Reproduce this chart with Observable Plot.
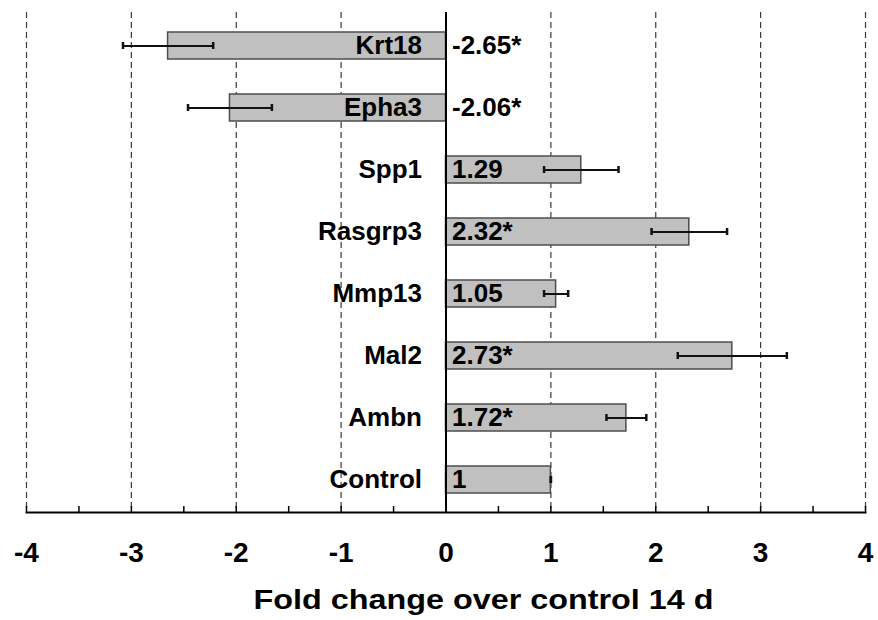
<!DOCTYPE html>
<html>
<head>
<meta charset="utf-8">
<script src="https://cdn.jsdelivr.net/npm/d3@7"></script>
<script src="https://cdn.jsdelivr.net/npm/@observablehq/plot@0.6"></script>
<style>
  html, body { margin: 0; padding: 0; background: #fff; }
  #chart svg { display: block; }
</style>
</head>
<body>
<div id="chart"></div>
<script>
// Gene expression fold change after 14 days, relative to control
const genes = ["Krt18", "Epha3", "Spp1", "Rasgrp3", "Mmp13", "Mal2", "Ambn", "Control"];
const foldChange = [-2.65, -2.06, 1.29, 2.32, 1.05, 2.73, 1.72, 1];
const stdError = [0.43, 0.40, 0.355, 0.36, 0.115, 0.52, 0.19, 0];
const valueLabels = ["-2.65*", "-2.06*", "1.29", "2.32*", "1.05", "2.73*", "1.72*", "1"];
const xTicks = [-4, -3, -2, -1, 0, 1, 2, 3, 4];
const minorTicks = [-4, -3.5, -3, -2.5, -2, -1.5, -1, -0.5, 0, 0.5, 1, 1.5, 2, 2.5, 3, 3.5, 4];
const gridLines = [-4, -3, -2, -1, 1, 2, 3, 4];
const axisTitle = "Fold change over control 14 d";

const rows = genes.map((gene, i) => ({
  gene,
  value: foldChange[i],
  se: stdError[i],
  label: valueLabels[i]
}));

const font = "Arial, 'Liberation Sans', sans-serif";

const chart = Plot.plot({
  width: 878,
  height: 620,
  marginTop: 12,
  marginBottom: 108,
  marginLeft: 26,
  marginRight: 13,
  style: { fontFamily: font, background: "#fff", color: "#000" },
  x: { domain: [-4, 4], label: null },
  y: { domain: genes, paddingInner: 0.568, paddingOuter: 0.284, axis: null, label: null },
  marks: [
    Plot.ruleX(gridLines, { stroke: "#3a3a3a", strokeWidth: 1.2, strokeDasharray: "6,4" }),
    Plot.barX(rows, { y: "gene", x1: 0, x2: "value", fill: "#c0c0c0", stroke: "#4d4d4d", strokeWidth: 1.5 }),
    Plot.ruleX([0], { stroke: "#000", strokeWidth: 2 }),
    // error bars with end caps
    Plot.ruleY(rows, { y: "gene", x1: d => d.value - d.se, x2: d => d.value + d.se, stroke: "#111", strokeWidth: 2 }),
    Plot.tickX(rows, { y: "gene", x: d => d.value - d.se, insetTop: 10, insetBottom: 10, stroke: "#111", strokeWidth: 2.5 }),
    Plot.tickX(rows, { y: "gene", x: d => d.value + d.se, insetTop: 10, insetBottom: 10, stroke: "#111", strokeWidth: 2.5 }),
    // gene names and fold-change values
    Plot.text(rows, { y: "gene", x: 0, text: "gene", dx: -24, textAnchor: "end", fontSize: 26, fontWeight: "bold", fill: "#000" }),
    Plot.text(rows, { y: "gene", x: 0, text: "label", dx: 6, textAnchor: "start", fontSize: 26, fontWeight: "bold", fill: "#000" }),
    // x axis: inward ticks every 0.5, labels every 1
    Plot.axisX({ ticks: minorTicks, tickSize: -6, tickFormat: () => "", strokeWidth: 1.5, label: null }),
    Plot.axisX({ ticks: xTicks, tickSize: 0, tickPadding: 30, tickFormat: d => String(d), fontSize: 28, fontWeight: "bold", fill: "#000", label: null }),
    Plot.frame({ anchor: "bottom", stroke: "#000", strokeWidth: 2 }),
    Plot.text([axisTitle], { frameAnchor: "bottom", dx: 37.5, dy: 96, fontSize: 27, fontWeight: "bold", fill: "#000", className: "xtitle" })
  ]
});

document.getElementById("chart").appendChild(chart);

// widen the axis title to its drawn length
d3.select(chart).selectAll(".xtitle text")
  .attr("textLength", 460)
  .attr("lengthAdjust", "spacingAndGlyphs");
</script>
</body>
</html>
